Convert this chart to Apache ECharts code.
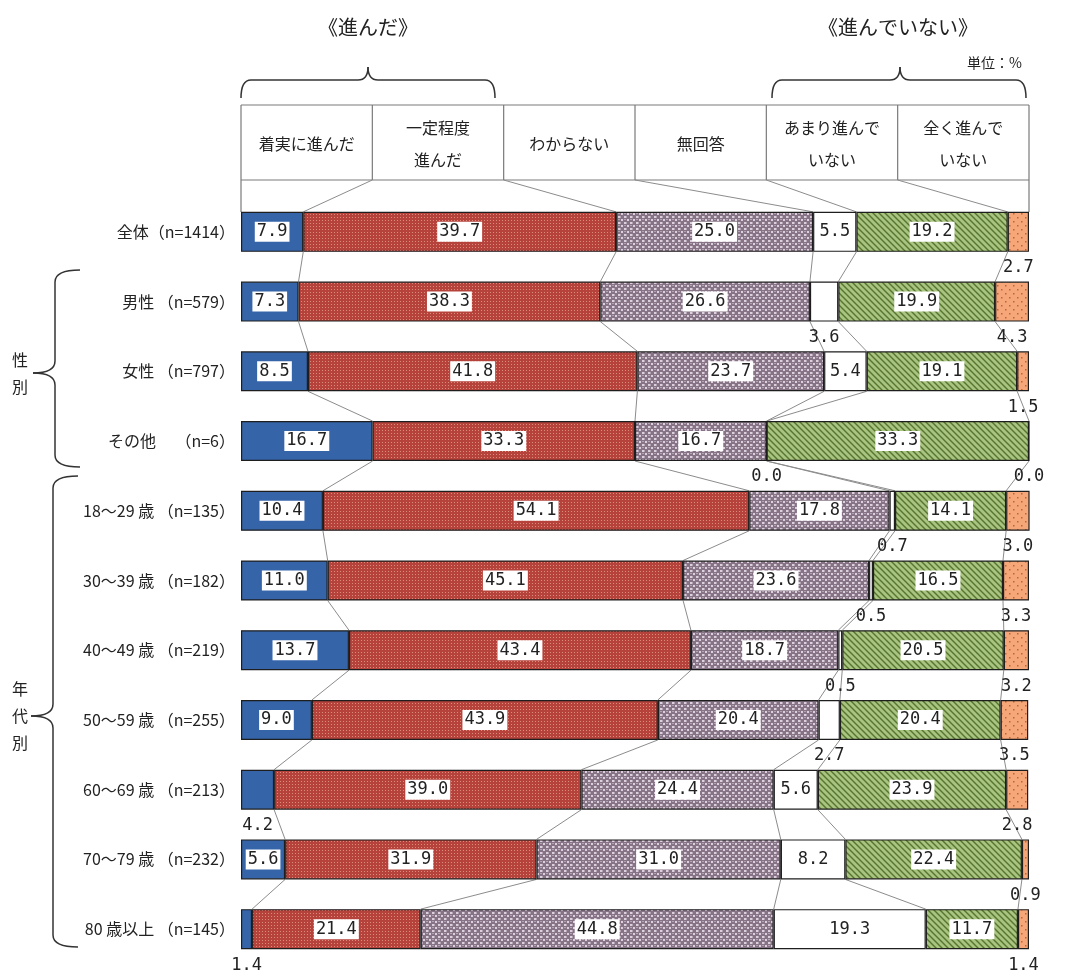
<!DOCTYPE html>
<html><head><meta charset="utf-8">
<script src="https://cdn.jsdelivr.net/npm/echarts/dist/echarts.min.js"></script>
<style>html,body{margin:0;padding:0;background:#fff}#c{width:1070px;height:978px}</style>
</head><body><div id="c"></div>
<script>
// ---------------- data ----------------
const categories = [
  '全体（n=1414）',
  '男性 （n=579）',
  '女性 （n=797）',
  'その他　 （n=6）',
  '18～29 歳 （n=135）',
  '30～39 歳 （n=182）',
  '40～49 歳 （n=219）',
  '50～59 歳 （n=255）',
  '60～69 歳 （n=213）',
  '70～79 歳 （n=232）',
  '80 歳以上 （n=145）'
];
const responses = ['着実に進んだ', '一定程度\n進んだ', 'わからない', '無回答', 'あまり進んで\nいない', '全く進んで\nいない'];
const steadily = [7.9, 7.3, 8.5, 16.7, 10.4, 11.0, 13.7, 9.0, 4.2, 5.6, 1.4];
const somewhat = [39.7, 38.3, 41.8, 33.3, 54.1, 45.1, 43.4, 43.9, 39.0, 31.9, 21.4];
const dontKnow = [25.0, 26.6, 23.7, 16.7, 17.8, 23.6, 18.7, 20.4, 24.4, 31.0, 44.8];
const noAnswer = [5.5, 3.6, 5.4, 0.0, 0.7, 0.5, 0.5, 2.7, 5.6, 8.2, 19.3];
const notMuch = [19.2, 19.9, 19.1, 33.3, 14.1, 16.5, 20.5, 20.4, 23.9, 22.4, 11.7];
const notAtAll = [2.7, 4.3, 1.5, 0.0, 3.0, 3.3, 3.2, 3.5, 2.8, 0.9, 1.4];
const groupTitles = ['《進んだ》', '《進んでいない》'];
const sideGroups = ['性\n別', '年\n代\n別'];
const unitText = '単位：%';

// ---------------- style ----------------
const GRID_L = 241, GRID_R = 41, GRID_T = 197, GRID_B = 14;
const BAR_H = 40;
const HEADER_TOP = 105, HEADER_BOTTOM = 180;
const NUM_FONT = 'DejaVu Sans Mono';
const JP_FONT = '"Noto Sans CJK JP", sans-serif';

function pattern(kind) {
  const c = document.createElement('canvas');
  const g = c.getContext('2d');
  if (kind === 'red') {
    c.width = 3; c.height = 3;
    g.fillStyle = '#b5423b'; g.fillRect(0, 0, 3, 3);
    g.fillStyle = '#dc8a7c'; g.fillRect(1, 1, 1, 1);
  } else if (kind === 'purple') {
    c.width = 6; c.height = 6;
    g.fillStyle = '#867486'; g.fillRect(0, 0, 6, 6);
    g.fillStyle = '#ddd0dd';
    g.fillRect(0, 0, 2, 2); g.fillRect(3, 3, 2, 2);
    g.fillStyle = '#b3a3b3';
    g.fillRect(2, 0, 1, 2); g.fillRect(0, 3, 2, 1);
  } else if (kind === 'green') {
    c.width = 6; c.height = 6;
    g.fillStyle = '#a9c480'; g.fillRect(0, 0, 6, 6);
    g.strokeStyle = '#56752e'; g.lineWidth = 1.4;
    g.beginPath();
    g.moveTo(-1, -1); g.lineTo(7, 7);
    g.moveTo(-4, 2); g.lineTo(4, 10);
    g.moveTo(2, -4); g.lineTo(10, 4);
    g.stroke();
  } else if (kind === 'orange') {
    c.width = 8; c.height = 8;
    g.fillStyle = '#f5a77a'; g.fillRect(0, 0, 8, 8);
    g.fillStyle = '#c2652f';
    g.fillRect(1, 1, 1.5, 1.5); g.fillRect(5, 5, 1.5, 1.5);
  }
  return { image: c, repeat: 'repeat' };
}

const seriesData = [steadily, somewhat, dontKnow, noAnswer, notMuch, notAtAll];
const fills = ['#3564a8', pattern('red'), pattern('purple'), '#ffffff', pattern('green'), pattern('orange')];

// cumulative boundaries per row
const cum = categories.map((_, r) => {
  const out = [0];
  seriesData.forEach(d => out.push(out[out.length - 1] + d[r]));
  return out;
});

const series = seriesData.map((d, i) => ({
  type: 'bar',
  name: responses[i],
  stack: 'total',
  barWidth: BAR_H,
  data: d.map(v => ({ value: v, label: { show: v >= 5 } })),
  itemStyle: { color: fills[i], borderColor: '#1e1e1e', borderWidth: 1.2 },
  label: {
    show: true, position: 'inside',
    formatter: p => p.value.toFixed(1),
    backgroundColor: '#ffffff', padding: [2, 2, 1, 2],
    color: '#222', fontFamily: NUM_FONT, fontSize: 17
  },
  emphasis: { disabled: true },
  z: 3
}));

series.push({
  type: 'custom',
  coordinateSystem: 'cartesian2d',
  clip: false,
  silent: true,
  z: 2,
  data: categories.map((_, i) => [0, i]),
  encode: { x: 0, y: 1 },
  renderItem(params, api) {
    const r = api.value(1);
    const cs = params.coordSys;
    const children = [];
    const yc = api.coord([0, r])[1];
    const top = yc - BAR_H / 2, bot = yc + BAR_H / 2;
    const lineStyle = { stroke: '#8c8c8c', lineWidth: 1 };
    if (r === 0) {
      for (let k = 1; k <= 5; k++) {
        const x1 = cs.x + k * cs.width / 6;
        const x2 = api.coord([cum[0][k], 0])[0];
        children.push({ type: 'line', shape: { x1, y1: HEADER_BOTTOM, x2, y2: top }, style: lineStyle });
      }
    }
    if (r < categories.length - 1) {
      const ynTop = api.coord([0, r + 1])[1] - BAR_H / 2;
      for (let k = 1; k <= 5; k++) {
        const x1 = api.coord([cum[r][k], r])[0];
        const x2 = api.coord([cum[r + 1][k], r + 1])[0];
        children.push({ type: 'line', shape: { x1, y1: bot, x2, y2: ynTop }, style: lineStyle });
      }
    }
    seriesData.forEach((d, s) => {
      const v = d[r];
      if (v < 5) {
        const xc = api.coord([(cum[r][s] + cum[r][s + 1]) / 2, r])[0];
        children.push({
          type: 'text',
          x: xc, y: bot + 16,
          style: { text: v.toFixed(1), fill: '#222', font: '17px ' + NUM_FONT, align: 'center', verticalAlign: 'middle' }
        });
      }
    });
    return { type: 'group', children };
  }
});

// ---------------- graphics ----------------
const W = 1070;
const gridW = W - GRID_L - GRID_R;
const colW = gridW / 6;
const graphics = [];
const frame = { stroke: '#7a7a7a', lineWidth: 1.2 };
function gl(x1, y1, x2, y2, style) { graphics.push({ type: 'line', shape: { x1, y1, x2, y2 }, style }); }
gl(GRID_L, HEADER_TOP, GRID_L + gridW, HEADER_TOP, frame);
gl(GRID_L, HEADER_BOTTOM, GRID_L + gridW, HEADER_BOTTOM, frame);
gl(GRID_L, HEADER_TOP, GRID_L, GRID_T + 15, frame);
gl(GRID_L + gridW, HEADER_TOP, GRID_L + gridW, GRID_T + 15, frame);
for (let k = 1; k < 6; k++) gl(GRID_L + k * colW, HEADER_TOP, GRID_L + k * colW, HEADER_BOTTOM, frame);
responses.forEach((t, k) => {
  graphics.push({
    type: 'text', x: GRID_L + (k + 0.5) * colW, y: (HEADER_TOP + HEADER_BOTTOM) / 2 + 1,
    style: { text: t, fill: '#222', font: '16px ' + JP_FONT, lineHeight: 32, align: 'center', verticalAlign: 'middle' }
  });
});

// braces
const braceStyle = { stroke: '#333', lineWidth: 1.5, fill: null };
function q(x1, y1, cx, cy, x2, y2) {
  graphics.push({ type: 'bezierCurve', shape: { x1, y1, x2, y2, cpx1: cx, cpy1: cy }, style: braceStyle });
}
function hBrace(xL, xR, xT, yL, yE, yT) {
  const r = 10;
  q(xL, yE, xL, yL, xL + r, yL);
  gl(xL + r, yL, xT - r, yL, braceStyle);
  q(xT - r, yL, xT, yL, xT, yT);
  q(xT, yT, xT, yL, xT + r, yL);
  gl(xT + r, yL, xR - r, yL, braceStyle);
  q(xR - r, yL, xR, yL, xR, yE);
}
function vBrace(yT0, yB, yTip, xL, xE, xTip) {
  const r = 12;
  q(xE, yT0, xL, yT0, xL, yT0 + r);
  gl(xL, yT0 + r, xL, yTip - r, braceStyle);
  q(xL, yTip - r, xL, yTip, xTip, yTip);
  q(xTip, yTip, xL, yTip, xL, yTip + r);
  gl(xL, yTip + r, xL, yB - r, braceStyle);
  q(xL, yB - r, xL, yB, xE, yB);
}
hBrace(241, 495, 368, 80, 98, 67);
hBrace(772, 1026, 900, 80, 98, 67);
vBrace(270, 467, 373, 55, 80, 33);
vBrace(476, 947, 716, 53, 78, 31);

graphics.push({ type: 'text', x: 368, y: 27, style: { text: groupTitles[0], fill: '#222', font: '20px ' + JP_FONT, align: 'center', verticalAlign: 'middle' } });
graphics.push({ type: 'text', x: 898, y: 27, style: { text: groupTitles[1], fill: '#222', font: '20px ' + JP_FONT, align: 'center', verticalAlign: 'middle' } });
graphics.push({ type: 'text', x: 1022, y: 63, style: { text: unitText, fill: '#222', font: '14px ' + JP_FONT, align: 'right', verticalAlign: 'middle' } });
graphics.push({ type: 'text', x: 20, y: 373, style: { text: sideGroups[0], fill: '#222', font: '16px ' + JP_FONT, lineHeight: 27, align: 'center', verticalAlign: 'middle' } });
graphics.push({ type: 'text', x: 20, y: 716, style: { text: sideGroups[1], fill: '#222', font: '16px ' + JP_FONT, lineHeight: 27, align: 'center', verticalAlign: 'middle' } });

const chart = echarts.init(document.getElementById('c'), null, { renderer: 'canvas' });
chart.setOption({
  animation: false,
  backgroundColor: '#ffffff',
  grid: { left: GRID_L, right: GRID_R, top: GRID_T, bottom: GRID_B, containLabel: false },
  xAxis: { type: 'value', min: 0, max: 100, show: false },
  yAxis: {
    type: 'category', data: categories, inverse: true,
    axisLine: { show: false }, axisTick: { show: false },
    axisLabel: { color: '#222', fontFamily: JP_FONT, fontSize: 16, margin: 6 }
  },
  series,
  graphic: graphics
});
</script></body></html>
